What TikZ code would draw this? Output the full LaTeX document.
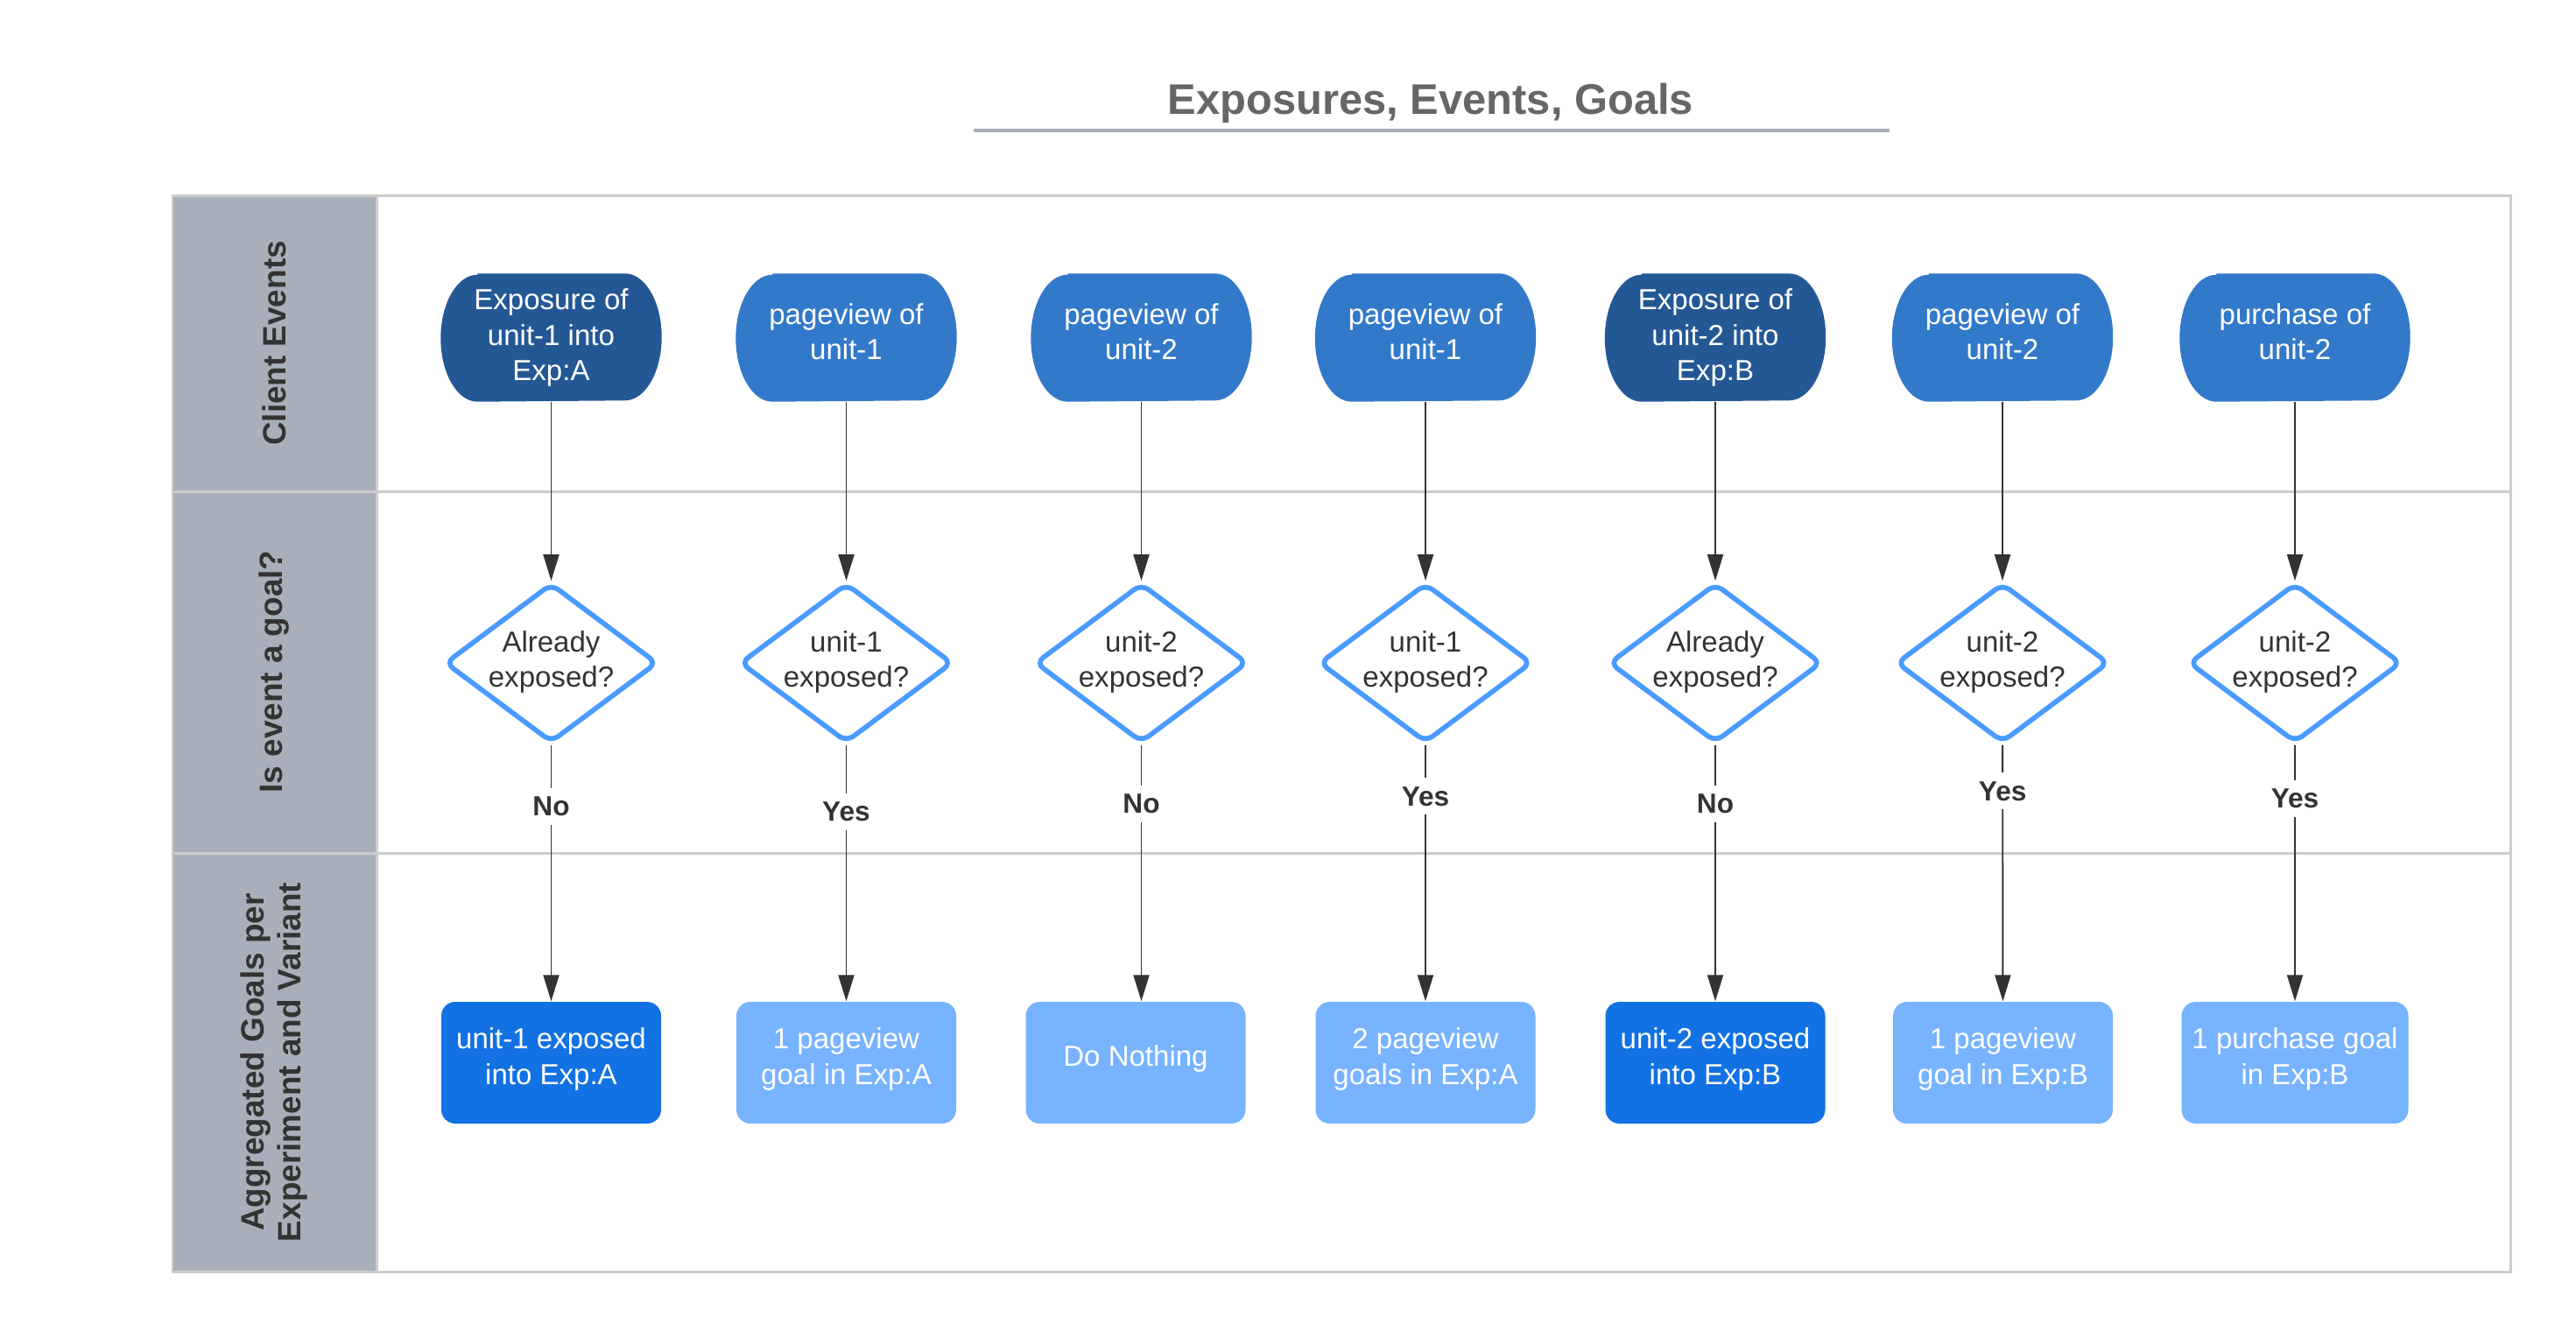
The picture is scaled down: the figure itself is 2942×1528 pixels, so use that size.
\documentclass[tikz,border=0pt]{standalone}
\usepackage{fontspec}
\setmainfont{Liberation Sans}
\usetikzlibrary{arrows.meta,shapes.geometric,backgrounds}
\definecolor{lanegray}{HTML}{A9AFBA}
\definecolor{laneline}{HTML}{CCCCCC}
\definecolor{inkdark}{HTML}{333333}
\definecolor{titlegray}{HTML}{666666}
\definecolor{expnavy}{HTML}{245895}
\definecolor{evblue}{HTML}{3379CA}
\definecolor{askblue}{HTML}{4A9BFF}
\definecolor{resdark}{HTML}{1271E3}
\definecolor{reslight}{HTML}{78B3FF}
\newcommand{\bodyfont}{\fontsize{9.4}{11.5}\selectfont}
\newcommand{\lanefont}{\fontsize{10.5}{12.2}\selectfont\bfseries}

\begin{document}
\begin{tikzpicture}[x=0.1mm,y=-0.1mm,>={Triangle[length=3mm,width=1.8mm]},
  evt/.style={minimum width=25.1mm,minimum height=14.5mm,inner sep=0pt,text=white,align=center,font=\bodyfont},
  evttwo/.style={evt,text depth=1.4mm},
  ask/.style={diamond,draw=askblue,line width=1.6pt,rounded corners=1mm,aspect=1.34,inner sep=0pt,
    minimum width=24.3mm,minimum height=18.2mm,text depth=0.9mm,text=inkdark,align=center,font=\bodyfont},
  res/.style={rectangle,rounded corners=1.6mm,minimum width=25.1mm,minimum height=13.9mm,text depth=1.5mm,
    text=white,align=center,font=\bodyfont},
  flow/.style={->,draw=inkdark,line width=0.55pt},
  yn/.style={fill=white,text=inkdark,inner xsep=0.5mm,inner ysep=1mm,font=\fontsize{9}{11}\selectfont\bfseries},
  lane/.style={rotate=90,text=inkdark,align=center,font=\lanefont}]
  \useasboundingbox (0,0) rectangle (2942,1528);

  \node[anchor=base,font=\fontsize{13.9}{16}\selectfont\bfseries,text=titlegray] (ttl) at (1634,130) {Exposures, Events, Goals};
  \draw[lanegray,line width=1.05pt] (1112,149) -- (2158,149);

  \fill[lanegray] (197,223) rectangle (430,1452);
  \draw[laneline,line width=0.85pt] (197,561) -- (2867,561) (197,974) -- (2867,974) (430,223) -- (430,1452);
  \draw[laneline,line width=0.85pt] (197,223) rectangle (2867,1452);
  \node[lane] (lnA) at (313,392) {Client Events};
  \node[lane] (lnB) at (313,767) {Is event a goal?};
  \node[lane] (lnC) at (313,1213) {Aggregated Goals per\\Experiment and Variant};

  \node[evt] (ev1) at (629.5,385.5) {Exposure of\\unit-1 into\\Exp:A};
  \node[evttwo] (ev2) at (966.5,385.5) {pageview of\\unit-1};
  \node[evttwo] (ev3) at (1303.5,385.5) {pageview of\\unit-2};
  \node[evttwo] (ev4) at (1628,385.5) {pageview of\\unit-1};
  \node[evt] (ev5) at (1959,385.5) {Exposure of\\unit-2 into\\Exp:B};
  \node[evttwo] (ev6) at (2287,385.5) {pageview of\\unit-2};
  \node[evttwo,minimum width=26.2mm] (ev7) at (2621,385.5) {purchase of\\unit-2};
  \begin{scope}[on background layer]
    \fill[white] (0,0) rectangle (2942,1528);
    \foreach \n/\c in {ev1/expnavy,ev2/evblue,ev3/evblue,ev4/evblue,ev5/expnavy,ev6/evblue,ev7/evblue}
      \fill[\c] ([xshift=4.2mm]\n.north west) -- ([xshift=-4.2mm]\n.north east)
        arc[start angle=90,end angle=-90,x radius=4.2mm,y radius=7.25mm]
        -- ([xshift=4.2mm]\n.south west)
        arc[start angle=270,end angle=90,x radius=4.2mm,y radius=7.25mm] -- cycle;
  \end{scope}

  \node[ask] (q1) at (629.5,757) {Already\\exposed?};
  \node[ask] (q2) at (966.5,757) {unit-1\\exposed?};
  \node[ask] (q3) at (1303.5,757) {unit-2\\exposed?};
  \node[ask] (q4) at (1628,757) {unit-1\\exposed?};
  \node[ask] (q5) at (1959,757) {Already\\exposed?};
  \node[ask] (q6) at (2287,757) {unit-2\\exposed?};
  \node[ask] (q7) at (2621,757) {unit-2\\exposed?};

  \node[res,fill=resdark] (r1) at (629.5,1213.5) {unit-1 exposed\\into Exp:A};
  \node[res,fill=reslight] (r2) at (966.5,1213.5) {1 pageview\\goal in Exp:A};
  \node[res,fill=reslight] (r3) at (1297,1213.5) {Do Nothing};
  \node[res,fill=reslight] (r4) at (1628,1213.5) {2 pageview\\goals in Exp:A};
  \node[res,fill=resdark] (r5) at (1959,1213.5) {unit-2 exposed\\into Exp:B};
  \node[res,fill=reslight] (r6) at (2287.5,1213.5) {1 pageview\\goal in Exp:B};
  \node[res,fill=reslight,minimum width=25.9mm] (r7) at (2621,1213.5) {1 purchase goal\\in Exp:B};

  \foreach \i in {1,...,7}
    \draw[flow] (ev\i) -- (q\i);
  \draw[flow] (q1) -- node[yn,pos=.24]{No} (r1);
  \draw[flow] (q2) -- node[yn,pos=.26]{Yes} (r2);
  \draw[flow] (q3) -- node[yn,pos=.23]{No} (q3 |- r3.north);
  \draw[flow] (q4) -- node[yn,pos=.20]{Yes} (r4);
  \draw[flow] (q5) -- node[yn,pos=.23]{No} (r5);
  \draw[flow] (q6) -- node[yn,pos=.18]{Yes} (r6);
  \draw[flow] (q7) -- node[yn,pos=.21]{Yes} (r7);
\end{tikzpicture}
\end{document}
